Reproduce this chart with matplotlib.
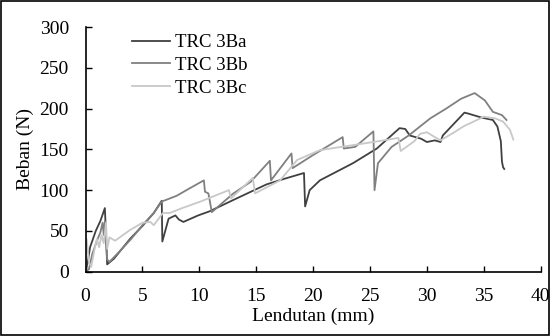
import matplotlib

matplotlib.use("Agg")
import matplotlib.pyplot as plt
from matplotlib.patches import Rectangle

plt.rcParams["font.family"] = ["Liberation Serif", "DejaVu Serif"]

# load-deflection curves (mm, N)
x_3ba = [0.0, 0.2, 0.4, 0.9, 1.3, 1.7, 1.8, 1.9, 2.5, 3.9, 5.0, 6.0, 6.7, 6.75, 7.3, 7.9,
         8.2, 8.6, 9.9, 10.9, 13.0, 15.9, 17.5, 19.2, 19.3, 19.7, 20.6, 23.5, 25.6, 27.6,
         28.1, 28.5, 29.5, 30.0, 30.7, 31.2, 31.4, 33.3, 33.6, 34.8, 35.8, 36.2, 36.5,
         36.6, 36.7, 36.8]
y_3ba = [0, 12, 30, 50, 62, 78, 45, 9, 16, 40, 56, 72, 87, 37, 65, 69,
         64, 61, 69, 74, 88, 107, 114, 121, 80, 100, 112, 133, 151, 176,
         175, 167, 163, 159, 161, 159, 167, 195, 194, 189, 186, 178, 160,
         135, 128, 126]

x_3bb = [0.0, 0.3, 0.6, 1.0, 1.3, 1.5, 1.6, 1.7, 1.9, 2.1, 3.0, 4.0, 5.0, 6.0, 6.7, 8.0,
         9.0, 10.4, 10.5, 10.8, 11.1, 12.0, 13.0, 14.5, 16.2, 16.3, 18.1, 18.2, 20.0,
         22.6, 22.7, 23.7, 25.3, 25.4, 25.7, 26.9, 28.4, 30.3, 31.7, 33.0, 34.2, 35.1,
         35.8, 36.2, 36.6, 37.0]
y_3bb = [0, 3, 22, 38, 48, 60, 45, 62, 15, 12, 25, 40, 57, 72, 86, 93,
         101, 112, 98, 96, 73, 84, 96, 110, 136, 112, 145, 127, 143,
         165, 151, 153, 172, 100, 133, 153, 167, 188, 200, 212, 219, 210,
         196, 194, 192, 186]

x_3bc = [0.0, 0.1, 0.3, 0.5, 0.8, 1.0, 1.2, 1.4, 1.6, 1.8, 1.9, 2.1, 2.6, 3.9, 5.0, 5.7,
         6.0, 6.8, 7.4, 8.5, 10.1, 12.6, 12.8, 14.7, 14.9, 16.0, 17.1, 18.6, 20.6, 22.0,
         25.3, 27.5, 27.7, 28.9, 29.4, 30.0, 30.7, 31.2, 32.3, 33.2, 35.0, 36.0, 36.7,
         37.3, 37.6]
y_3bc = [0, 40, 12, 6, 28, 40, 30, 45, 35, 60, 28, 42, 38, 51, 60, 61,
         57, 72, 72, 78, 86, 100, 90, 115, 96, 104, 112, 137, 149, 152,
         159, 164, 148, 160, 169, 171, 165, 161, 170, 178, 190, 188, 184,
         174, 162]

series = [
    ("TRC 3Ba", x_3ba, y_3ba, "#404040"),
    ("TRC 3Bb", x_3bb, y_3bb, "#808080"),
    ("TRC 3Bc", x_3bc, y_3bc, "#c8c8c8"),
]
x_ticks = [0, 5, 10, 15, 20, 25, 30, 35, 40]
y_ticks = [0, 50, 100, 150, 200, 250, 300]

fig = plt.figure(figsize=(5.5, 3.36), dpi=100)
ax = fig.add_axes([0.1555, 0.1914, 0.8275, 0.7282])

for label, xs, ys, color in series:
    ax.plot(xs, ys, color=color, lw=1.3, label=label)

ax.set_xlim(0, 40)
ax.set_ylim(0, 300)
ax.set_xticks(x_ticks)
ax.set_yticks(y_ticks)
ax.spines["top"].set_visible(False)
ax.spines["right"].set_visible(False)
for side in ("left", "bottom"):
    ax.spines[side].set_color("black")
    ax.spines[side].set_linewidth(1.2)
ax.tick_params(direction="in", length=4, width=1.0, colors="black", labelsize=14, pad=12)
ax.set_xlabel("Lendutan (mm)", fontsize=14, labelpad=2)
ax.set_ylabel("Beban (N)", fontsize=14, labelpad=4)

ax.legend(loc="upper left", bbox_to_anchor=(0.074, 1.025), frameon=False, fontsize=13.5,
          handlelength=2.0, handletextpad=0.25, labelspacing=0.3, borderaxespad=0.3)

# thin frame around the whole figure
fig.patches.append(Rectangle((0.002, 0.003), 0.996, 0.994, transform=fig.transFigure,
                             fill=False, edgecolor="black", lw=1.2))

fig.savefig("out.png", dpi=100)
plt.close(fig)
